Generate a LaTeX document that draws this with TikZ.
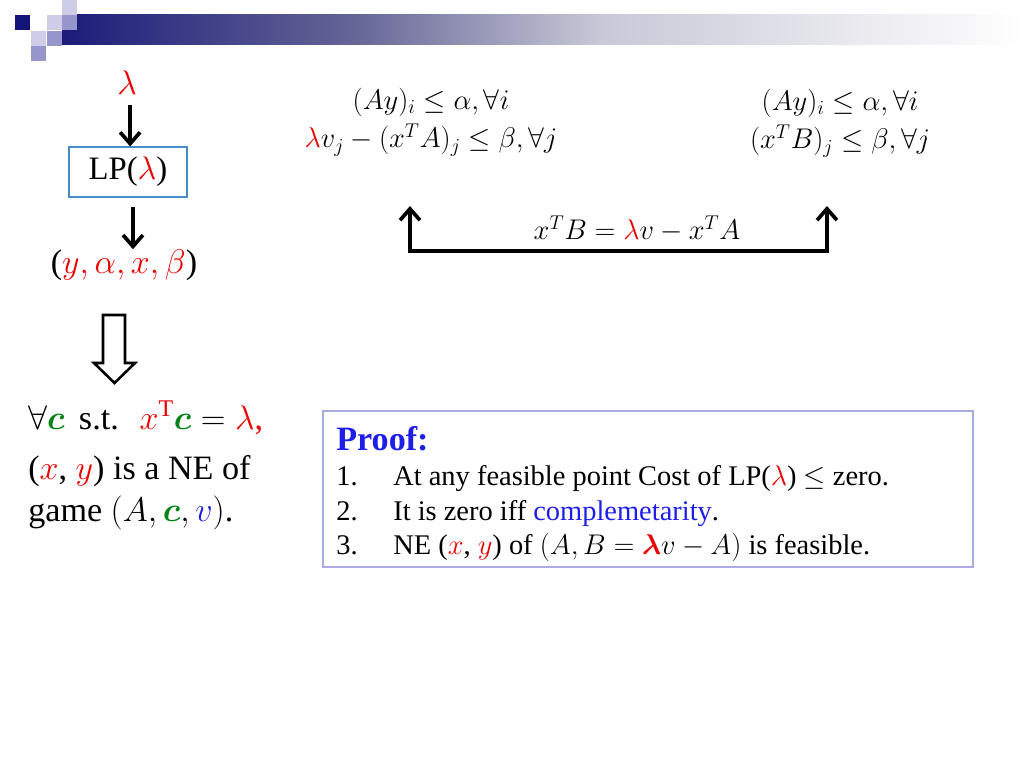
\documentclass[tikz,border=0pt]{standalone}
\usepackage{fix-cm}
\usepackage{amsmath,amssymb,bm}
\usepackage{fontspec}
\setmainfont{Liberation Serif}
\usetikzlibrary{arrows.meta}
\definecolor{lamred}{RGB}{235,0,0}
\definecolor{cgreen}{RGB}{0,130,20}
\definecolor{vblue}{RGB}{30,30,220}
\definecolor{pblue}{RGB}{30,30,235}
\definecolor{lpblue}{RGB}{70,140,200}
\definecolor{pborder}{RGB}{170,170,230}
\definecolor{navy}{RGB}{20,20,120}
\definecolor{barA}{RGB}{28,28,122}
\definecolor{barB}{RGB}{100,100,150}
\definecolor{barC}{RGB}{200,200,215}
\definecolor{sqlight}{RGB}{205,205,232}
\definecolor{sqmed}{RGB}{150,150,205}
\newcommand{\Rd}[1]{\textcolor{lamred}{#1}}
\newcommand{\Gr}[1]{\textcolor{cgreen}{#1}}
\newcommand{\Bl}[1]{\textcolor{vblue}{#1}}
\begin{document}
\begin{tikzpicture}[x=0.703125pt,y=-0.703125pt,
  txtA/.style={font=\fontsize{24}{28}\selectfont, inner sep=0pt},
  txtB/.style={font=\fontsize{20}{24}\selectfont, inner sep=0pt},
  eqs/.style={font=\fontsize{20}{27}\selectfont, inner sep=0pt, align=center},
  tip/.style={Straight Barb[length=8pt,width=14pt]},
  arr/.style={line width=2.6pt, -{Straight Barb[length=8pt,width=14pt]}},
  botharr/.style={line width=2.6pt, {Straight Barb[length=8pt,width=14pt]}-{Straight Barb[length=8pt,width=14pt]}},
  lpbox/.style={draw=lpblue, line width=0.9pt, minimum width=83pt, minimum height=35pt, inner sep=0pt, font=\fontsize{23}{27}\selectfont},
  proofbox/.style={draw=pborder, line width=1pt, minimum width=457pt, minimum height=109.7pt, inner sep=0pt},
  hollow/.style={draw=black, line width=1.8pt, fill=white}
]
\useasboundingbox (0,0) rectangle (1024,768);
% header decoration
\shade[left color=barA, right color=barB] (62,15) rectangle (350,45);
\shade[left color=barB, right color=barC] (349.5,15) rectangle (600,45);
\shade[left color=barC, right color=white] (599.5,15) rectangle (1024,45);
\fill[navy] (15,15) rectangle (30,30);
\fill[sqlight] (62,0) rectangle (77,15);
\fill[sqlight] (47,15) rectangle (62,30);
\fill[sqlight] (31,31) rectangle (46,46);
\fill[sqmed] (62,15) rectangle (77,30);
\fill[sqmed] (47,31) rectangle (62,46);
\fill[sqmed] (31,46) rectangle (46,61);

% left chain
\node[txtA] (lam) at (127,83) {$\Rd{\lambda}$};
\node[lpbox] (lp) at (128,172) {LP(\Rd{$\lambda$})};
\node[txtA] (tup) at (124,265) {(\Rd{$y, \alpha, x, \beta$})};
\draw[arr, shorten <=7pt] ([xshift=1.5pt]lp.north |- lam.south) -- ([xshift=1.5pt]lp.north);
\draw[arr, shorten <=7pt] ([xshift=3.5pt]lp.south) -- ([xshift=3.5pt]lp.south |- tup.north);

% hollow arrow
\draw[hollow] (103,315) -- (125,315) -- (125,363) -- (135,363) -- (114.5,383) -- (94,363) -- (103,363) -- cycle;

% left statement
\node[txtA, anchor=base west] (l1) at (28,429) {$\forall\Gr{\bm{c}}$\, s.t.\; $\Rd{x^{\mathrm{T}}}\Gr{\bm{c}} = \Rd{\lambda}$\Rd{,}};
\node[txtA, anchor=base west] (l2) at (28,479) {(\Rd{$x$}, \Rd{$y$}) is a NE of};
\node[txtA, anchor=base west] (l3) at (28,521) {game $(A, \Gr{\bm{c}}, \Bl{v})$.};

% top equations
\node[eqs] (eqL) at (431,122) {$(Ay)_i \le \alpha, \forall i$\\ $\Rd{\lambda} v_j - (x^T A)_j \le \beta, \forall j$};
\node[eqs] (eqR) at (840,123) {$(Ay)_i \le \alpha, \forall i$\\ $(x^T B)_j \le \beta, \forall j$};

% bracket
\coordinate (tl) at (410,206);
\coordinate (bl) at (410,251);
\coordinate (br) at (827,251);
\coordinate (tr) at (827,206);
\draw[botharr] (tl) -- (bl) -- (br) -- (tr);
\node[txtB] (rel) at (637,229) {$x^T B = \Rd{\lambda} v - x^T A$};

% proof box
\node[proofbox] (pbox) at (648,489) {};
\node[anchor=base west, inner sep=0pt, font=\fontsize{24}{28}\selectfont\bfseries, text=pblue] (ph) at (336,450) {Proof:};
\node[txtB, anchor=base west] (n1) at (336,485) {1.};
\node[txtB, anchor=base west] (t1) at (393,485) {At any feasible point Cost of LP(\Rd{$\lambda$}) $\le$ zero.};
\node[txtB, anchor=base west] (n2) at (336,520) {2.};
\node[txtB, anchor=base west] (t2) at (393,520) {It is zero iff \textcolor{pblue}{complemetarity}.};
\node[txtB, anchor=base west] (n3) at (336,554) {3.};
\node[txtB, anchor=base west] (t3) at (393,554) {NE (\Rd{$x$}, \Rd{$y$}) of $(A, B = \Rd{\bm{\lambda}} v - A)$ is feasible.};
\end{tikzpicture}
\end{document}
